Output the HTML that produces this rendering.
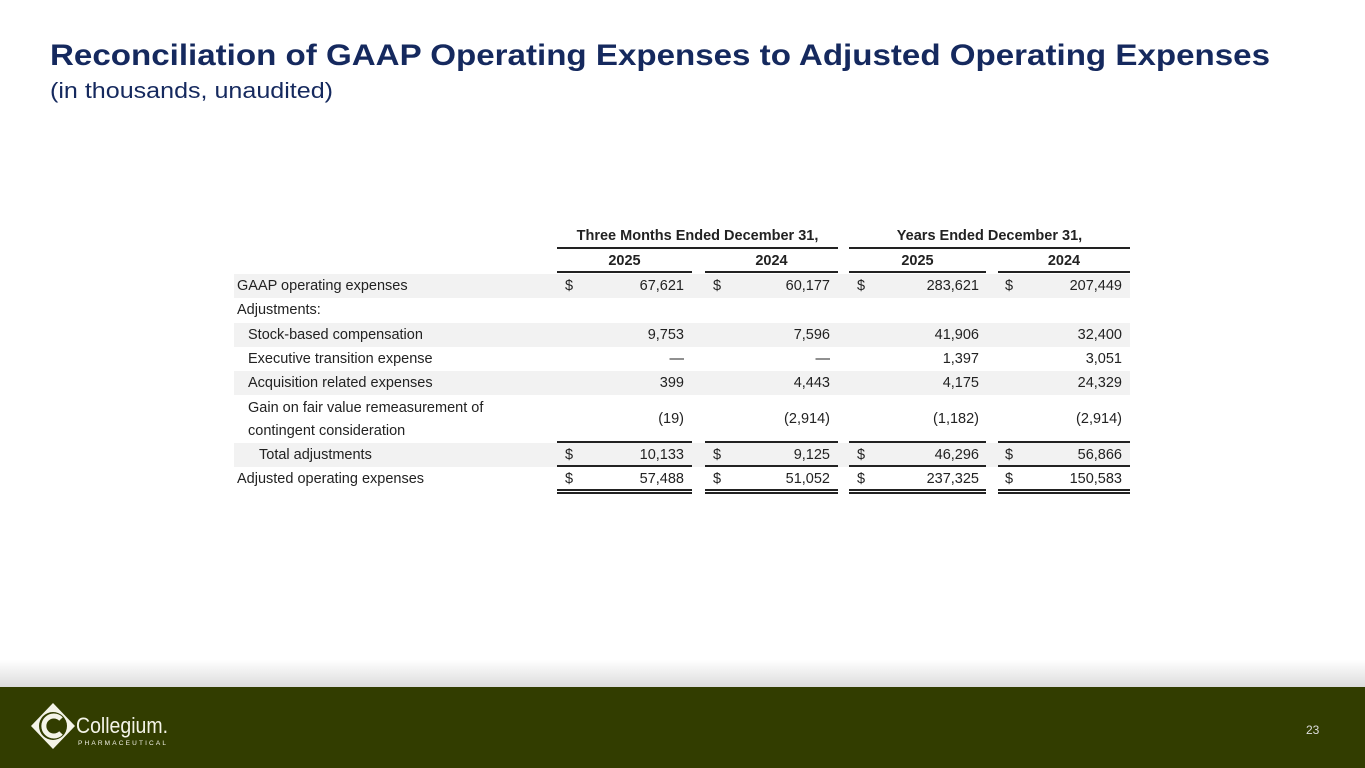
<!DOCTYPE html>
<html><head><meta charset="utf-8">
<style>
body{margin:0;width:1365px;height:768px;position:relative;overflow:hidden;background:#fff;font-family:"Liberation Sans","DejaVu Sans",sans-serif;}
.a{position:absolute;white-space:nowrap;font-size:14.5px;color:#222;line-height:16px;}
.bg{position:absolute;background:#f2f2f2;left:234px;width:896px;}
.ln{position:absolute;background:#222;height:1.5px;}
</style></head><body>
<svg style="position:absolute;left:0;top:0" width="1365" height="110">
<text x="50" y="65" font-family="Liberation Sans, sans-serif" font-weight="bold" font-size="30" fill="#15295e" textLength="1220" lengthAdjust="spacingAndGlyphs">Reconciliation of GAAP Operating Expenses to Adjusted Operating Expenses</text>
<text x="50" y="98" font-family="Liberation Sans, sans-serif" font-size="22" fill="#15295e" textLength="283" lengthAdjust="spacingAndGlyphs">(in thousands, unaudited)</text>
</svg>
<div id="tbl"></div>
<div style="position:absolute;left:0;top:660px;width:1365px;height:27px;background:linear-gradient(#fff,#dcdcdc)"></div>
<div style="position:absolute;left:0;top:687px;width:1365px;height:81px;background:#323d00"></div>
<svg style="position:absolute;left:30px;top:702px" width="150" height="50">
<polygon points="23,1 45,24 23,47 1,24" fill="#f4f4e8"/>
<circle cx="23" cy="24" r="14" fill="#323d00"/>
<path d="M31,17 A10,10 0 1 0 31,31" fill="none" stroke="#f4f4e8" stroke-width="5"/>
<text x="46" y="31" font-family="Liberation Sans, sans-serif" font-size="22" fill="#f4f4e8" textLength="92" lengthAdjust="spacingAndGlyphs">Collegium.</text>
<text x="48" y="43" font-family="Liberation Sans, sans-serif" font-size="6.5" fill="#f4f4e8" textLength="88" lengthAdjust="spacing">PHARMACEUTICAL</text>
</svg>
<div class="a" style="left:1306px;top:722px;color:#ddd;font-size:12px">23</div>
<script>
const labels=["GAAP operating expenses","Adjustments:","Stock-based compensation","Executive transition expense","Acquisition related expenses","Gain on fair value remeasurement of|contingent consideration","Total adjustments","Adjusted operating expenses"];
const indents=[0,0,1,1,1,1,2,0];
const q2025=["67,621","","9,753","—","399","(19)","10,133","57,488"];
const q2024=["60,177","","7,596","—","4,443","(2,914)","9,125","51,052"];
const y2025=["283,621","","41,906","1,397","4,175","(1,182)","46,296","237,325"];
const y2024=["207,449","","32,400","3,051","24,329","(2,914)","56,866","150,583"];
const dollarRows=[0,6,7];
const shaded=[0,2,4,6];
const rowTop=[274,298,323,347,371,396,443,467];
const rowH=[24,24,24,24,24,46,24,24];
const cols=[{d:565,r:684,l:557,e:692},{d:713,r:830,l:705,e:838},{d:857,r:979,l:849,e:986},{d:1005,r:1122,l:998,e:1130}];
const series=[q2025,q2024,y2025,y2024];
const years=["2025","2024","2025","2024"];
const T=document.getElementById('tbl');
function add(cls,style,txt){const e=document.createElement('div');e.className=cls;e.style.cssText=style;if(txt!==undefined)e.textContent=txt;T.appendChild(e);return e;}
labels.forEach((lb,i)=>{
 if(shaded.includes(i)){const b=add('bg',`top:${rowTop[i]}px;height:${rowH[i]}px`);
 
 }
 const cy=rowTop[i]+rowH[i]/2;
 const parts=lb.split('|');
 parts.forEach((p,k)=>{const t=add('a',`left:${237+indents[i]*11}px;top:${cy-8+(parts.length>1?(k?11.5:-11.5):0)}px`,p);
 
 });
 series.forEach((s,c)=>{
  const col=cols[c];
  if(dollarRows.includes(i)){const d=add('a',`left:${col.d}px;top:${cy-8}px`,'$');
  
  }
  if(s[i]){const v=add('a',`right:${1365-col.r}px;top:${cy-8}px`,s[i]);
  
  }
 });
});
const h1=add('a','left:557px;width:281px;text-align:center;top:228px;font-weight:bold','Three Months Ended December 31,');


const h2=add('a','left:849px;width:281px;text-align:center;top:228px;font-weight:bold','Years Ended December 31,');


add('ln','left:557px;width:281px;top:247px');
add('ln','left:849px;width:281px;top:247px');
cols.forEach((col,c)=>{
 const y=add('a',`left:${col.l}px;width:${col.e-col.l}px;text-align:center;top:253px;font-weight:bold`,years[c]);
 
 
 add('ln',`left:${col.l}px;width:${col.e-col.l}px;top:271px`);
 add('ln',`left:${col.l}px;width:${col.e-col.l}px;top:441px`);
 add('ln',`left:${col.l}px;width:${col.e-col.l}px;top:465px`);
 add('ln',`left:${col.l}px;width:${col.e-col.l}px;top:489px`);
 add('ln',`left:${col.l}px;width:${col.e-col.l}px;top:492px`);
});
document.querySelectorAll('.ln').forEach(e=>{});
</script>
</body></html>
